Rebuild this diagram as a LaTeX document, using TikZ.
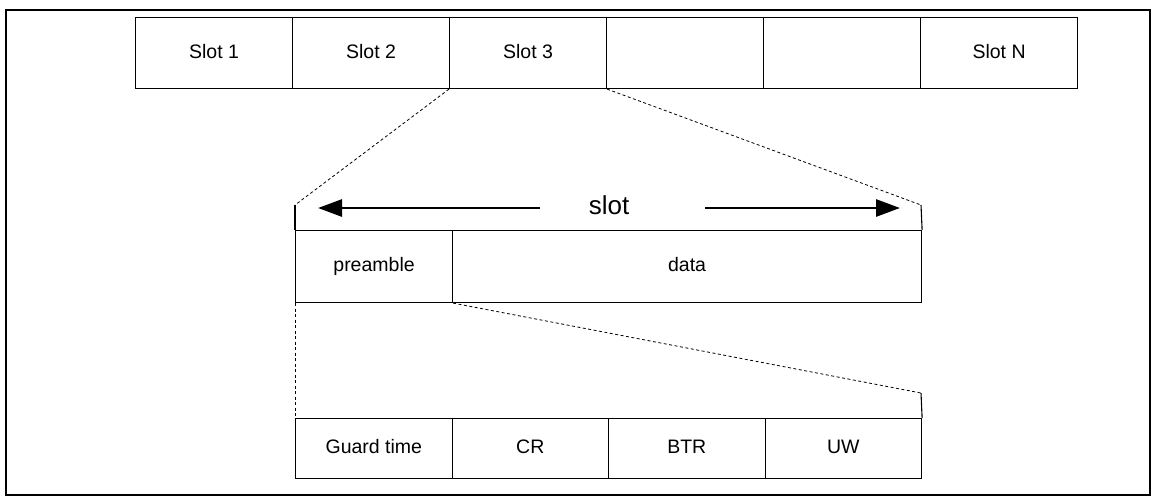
\documentclass[tikz,border=0pt]{standalone}
\usepackage{fontspec}
\setmainfont{Liberation Sans}
\usetikzlibrary{arrows.meta}
\begin{document}
\begin{tikzpicture}[x=1pt,y=-1pt,
  cell/.style={draw, line width=1.1pt, inner sep=0pt, anchor=north west,
    font=\fontsize{19.5}{22}\selectfont, text height=14pt, text depth=4pt},
  topcell/.style={cell, minimum width=157pt, minimum height=71pt},
  midcell/.style={cell, minimum height=72pt},
  lowcell/.style={cell, minimum width=156.5pt, minimum height=60pt},
  zoomline/.style={line width=0.8pt, dash pattern=on 3pt off 2.5pt},
  bigarrow/.style={line width=2.8pt, -{Triangle[length=24pt,width=17pt]}}]
\useasboundingbox (0,0) rectangle (1155,499);
\draw[line width=1.1pt] (6,10) rectangle (1150,495);
% top row
\node[topcell] (s1) at (135,17) {Slot 1};
\node[topcell] (s2) at (292,17) {Slot 2};
\node[topcell] (s3) at (449,17) {Slot 3};
\node[topcell] (s4) at (606,17) {};
\node[topcell] (s5) at (763,17) {};
\node[topcell] (s6) at (920,17) {Slot N};
% expanded slot
\node[midcell, minimum width=157pt] (pre) at (295,230) {preamble};
\node[midcell, minimum width=469pt] (dat) at (452,230) {data};
\coordinate (ml) at (295,205);
\coordinate (mr) at (921,205);
\draw[line width=1.1pt] (ml) -- (pre.north west);
\draw[line width=1.1pt] (mr) -- (dat.north east);
\draw[zoomline] (s3.south west) -- (ml);
\draw[zoomline] (s3.south east) -- (mr);
\node[font=\fontsize{26}{30}\selectfont] (lbl) at (609,205) {slot};
\coordinate (al) at (318,208);
\coordinate (ar) at (900,208);
\draw[bigarrow] (540,208) -- (al);
\draw[bigarrow] (705,208) -- (ar);
% expanded preamble
\node[lowcell] (g) at (295,418) {Guard time};
\node[lowcell] (cr) at (451.5,418) {CR};
\node[lowcell] (btr) at (608,418) {BTR};
\node[lowcell] (uw) at (764.5,418) {UW};
\coordinate (br) at (921,393);
\draw[line width=1.1pt] (br) -- (uw.north east);
\draw[zoomline] (pre.south west) -- (g.north west);
\draw[zoomline] (pre.south east) -- (br);
\end{tikzpicture}
\end{document}
